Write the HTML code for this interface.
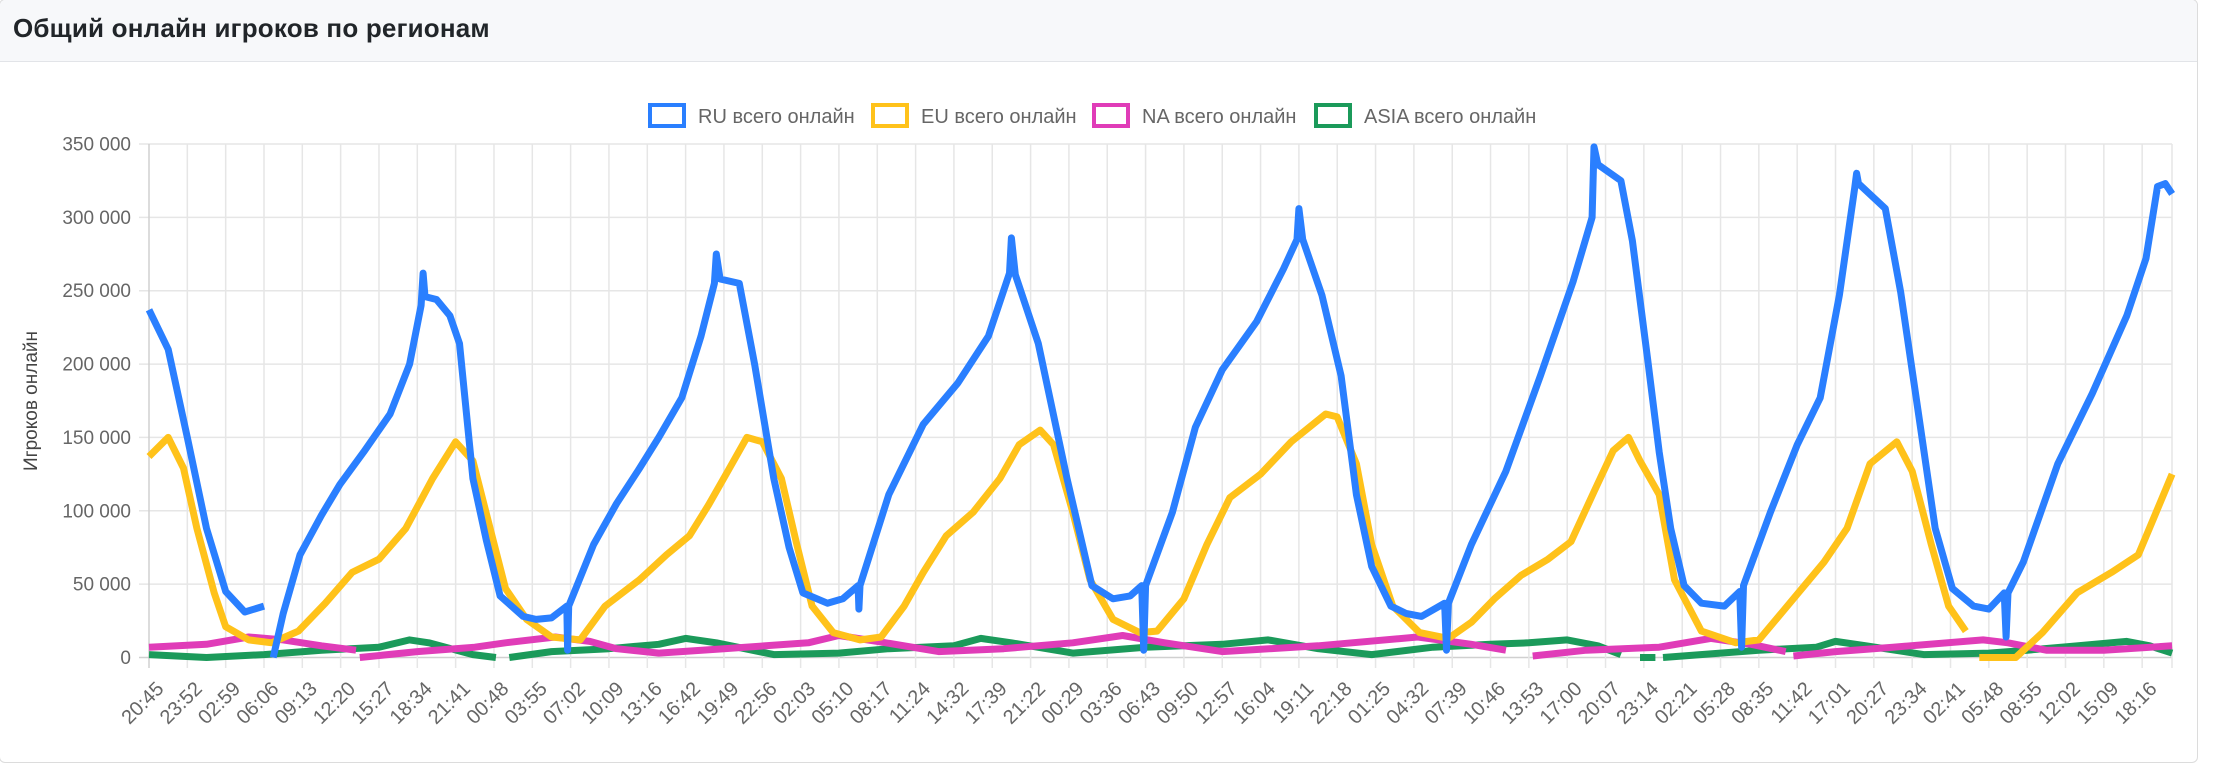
<!DOCTYPE html>
<html><head><meta charset="utf-8">
<style>
html,body{margin:0;padding:0;background:#fff;}
body{width:2216px;height:769px;overflow:hidden;position:relative;font-family:"Liberation Sans",Arial,sans-serif;}
#card{position:absolute;left:-1px;top:-1px;width:2199px;height:764px;border:1px solid #dcdcdc;border-radius:6px;box-sizing:border-box;overflow:hidden;}
#header{position:absolute;left:0;top:0;width:100%;height:62px;background:#f7f8fa;border-bottom:1px solid #e2e4e8;box-sizing:border-box;}
#title{position:absolute;left:13px;top:13px;font-size:26px;font-weight:bold;color:#212529;letter-spacing:0.2px;}
svg{position:absolute;left:0;top:0;}
</style></head>
<body>
<div id="card">
  <div id="header">
    <div id="title">Общий онлайн игроков по регионам</div>
  </div>
</div>
<svg id="chart" width="2216" height="769"></svg>
<script>
const tickLabels = ["20:45","23:52","02:59","06:06","09:13","12:20","15:27","18:34","21:41","00:48","03:55","07:02","10:09","13:16","16:42","19:49","22:56","02:03","05:10","08:17","11:24","14:32","17:39","21:22","00:29","03:36","06:43","09:50","12:57","16:04","19:11","22:18","01:25","04:32","07:39","10:46","13:53","17:00","20:07","23:14","02:21","05:28","08:35","11:42","17:01","20:27","23:34","02:41","05:48","08:55","12:02","15:09","18:16"];
const yTicks = [0,50000,100000,150000,200000,250000,300000,350000];
const yTickLabels = ["0","50 000","100 000","150 000","200 000","250 000","300 000","350 000"];
const seriesNames = ["RU всего онлайн","EU всего онлайн","NA всего онлайн","ASIA всего онлайн"];

const ruT = [0,0.5,1,1.5,2,2.5,3,3.1,3.24,3.5,3.94,4.5,4.98,5.6,6.29,6.8,7.1,7.15,7.2,7.5,7.85,8.1,8.45,8.8,9.16,9.76,10.1,10.5,10.9,10.92,10.95,11.6,12.2,12.8,13.3,13.9,14.4,14.75,14.8,14.9,15.4,15.8,16.3,16.7,17.06,17.7,18.1,18.5,18.52,18.55,19.3,20.2,21.1,21.9,22.45,22.5,22.6,23.2,23.95,24.6,25.15,25.6,25.9,25.95,26.0,26.7,27.3,28.0,28.9,29.6,29.95,30.0,30.1,30.6,31.1,31.5,31.9,32.4,32.8,33.2,33.8,33.85,33.9,34.5,35.4,36.3,37.15,37.65,37.7,37.8,38.4,38.7,39.1,39.4,39.7,40.05,40.5,41.1,41.5,41.55,41.6,42.3,43.0,43.6,44.1,44.5,44.55,44.6,45.3,45.7,46.15,46.6,47.05,47.6,48.0,48.4,48.45,48.5,48.9,49.8,50.7,51.6,52.1,52.4,52.6,52.78];
const ruV = [237,210,150,88,45,31,35,null,0,30,70,97,118,140,166,200,240,262,246,244,233,214,122,80,42,28,26,27,35,5,35,77,105,129,150,177,219,255,275,258,255,200,122,75,44,37,40,49,33,49,111,159,187,219,262,286,261,214,122,49,40,42,49,5,49,99,157,196,229,265,285,306,285,247,192,111,62,35,30,28,37,5,37,77,127,192,256,300,348,336,325,284,203,140,88,49,37,35,45,7,49,99,145,177,247,320,330,323,306,249,169,88,47,35,33,44,14,44,65,132,180,233,272,321,323,316];

const euT = [0,0.5,0.9,1.25,1.7,2.0,2.6,3.2,3.9,4.6,5.3,6.0,6.7,7.4,8.0,8.45,8.9,9.3,9.85,10.5,11.25,11.9,12.8,13.5,14.1,14.6,15.1,15.6,16.0,16.5,16.9,17.3,17.85,18.55,19.1,19.7,20.2,20.8,21.5,22.2,22.7,23.25,23.6,24.1,24.55,25.15,25.85,26.3,27.0,27.6,28.2,29.0,29.8,30.7,31.0,31.5,31.9,32.45,33.15,33.9,34.5,35.1,35.8,36.5,37.1,37.7,38.2,38.6,38.9,39.4,39.8,40.5,41.4,42.0,42.9,43.7,44.3,44.9,45.6,46.0,46.5,46.95,47.4,47.5,47.75,48.7,49.4,50.3,51.2,51.9,52.3,52.78];
const euV = [137,150,129,88,44,21,12,10,18,37,58,67,88,122,147,134,88,47,26,14,12,35,53,70,83,104,127,150,147,122,77,35,17,12,14,35,58,83,99,122,145,155,145,99,53,26,17,18,40,77,109,125,147,166,164,132,77,35,17,13,24,40,56,67,79,113,141,150,134,111,53,18,10,12,40,65,88,132,147,127,77,35,18,null,0,0,17,44,58,70,95,125];

const naT = [0,1.5,2.6,3.5,4.5,5.4,5.45,5.5,7,8.5,9.3,10.6,11.5,12.2,13.3,15,17.2,18.0,19,20.6,22.3,24.1,25.4,26.5,28,30.5,33.1,34.5,35.4,35.8,36.1,37.5,39.4,40.75,41.8,42.7,42.8,42.9,44,45.5,47.85,48.5,49.5,51,52.78];
const naV = [7,9,14,12,8,5,null,0,4,7,10,14,11,6,3,6,10,15,11,4,6,10,15,10,4,8,14,9,5,null,1,5,7,13,9,4,null,1,4,7,12,10,5,5,8];

const asiaT = [0,1.5,3,4.5,6,6.8,7.3,8.45,9.05,9.2,9.4,10.5,12,13.3,14.0,14.8,16.3,18,19.3,21,21.7,22.5,24.1,26,28,29.2,30.5,31.9,33.5,35,36,37,37.8,38.4,38.6,38.9,39.3,39.4,39.5,41,42,43.5,44.0,44.8,46.3,48,49,50.3,51.6,52.2,52.78];
const asiaV = [2,0,2,5,7,12,10,2,0,null,0,4,6,9,13,10,2,3,6,8,13,10,3,7,9,12,6,2,7,9,10,12,8,2,null,0,0,null,0,3,5,7,11,8,2,3,5,8,11,8,3];

const NS = "http://www.w3.org/2000/svg";
const svg = document.getElementById('chart');
const X0 = 149, STEP = 38.33, XR = 2172;
const Y0 = 657.5, YT = 144, YMAX = 350000;
function xScale(t){ return X0 + t*STEP; }
function yScale(v){ return Y0 - (v/YMAX)*(Y0-YT); }
function mk(tag, attrs){ const e=document.createElementNS(NS,tag); for(const k in attrs) e.setAttribute(k,attrs[k]); svg.appendChild(e); return e; }

yTicks.forEach((v,i)=>{
  const y=yScale(v);
  const g=mk('line',{x1:139,x2:XR,y1:y,y2:y,stroke:i===0?'#d0d0d0':'#e6e6e6','stroke-width':1.5});
  
  
  const t=mk('text',{x:131,y:y+6.5,'text-anchor':'end','font-size':19,fill:'#666','font-family':'Liberation Sans, sans-serif'});
  t.textContent=yTickLabels[i];
  
  
});
tickLabels.forEach((lab,i)=>{
  const x=xScale(i);
  const g=mk('line',{x1:x,x2:x,y1:YT,y2:668,stroke:i===0?'#d0d0d0':'#e6e6e6','stroke-width':1.5});
  
  
  const t=mk('text',{transform:`translate(${x+6},${680}) rotate(-45)`,'text-anchor':'end','font-size':20,fill:'#666','font-family':'Liberation Sans, sans-serif',dy:'0.7em'});
  t.textContent=lab;
  
  
});
const rg=mk('line',{x1:XR,x2:XR,y1:YT,y2:668,stroke:'#e6e6e6','stroke-width':1.5});



const yt=mk('text',{transform:'translate(37,401) rotate(-90)','text-anchor':'middle','font-size':19,fill:'#444','font-family':'Liberation Sans, sans-serif'});
yt.textContent='Игроков онлайн';



const colors=['#2a7fff','#ffc21a','#e03cb8','#1b9a5a'];
function drawSeries(ts, vs, color, name){
  let d='', pen=false;
  for(let i=0;i<ts.length;i++){
    if(vs[i]===null){pen=false;continue;}
    d += (pen?'L':'M') + xScale(ts[i]).toFixed(1)+','+yScale(vs[i]*1000).toFixed(1);
    pen=true;
  }
  const p=mk('path',{d:d,fill:'none',stroke:color,'stroke-width':7,'stroke-linejoin':'round','stroke-linecap':'butt'});
  
  
}
drawSeries(asiaT,asiaV,colors[3],'asia-line');
drawSeries(naT,naV,colors[2],'na-line');
drawSeries(euT,euV,colors[1],'eu-line');
drawSeries(ruT,ruV,colors[0],'ru-line');

const legX=[648,871,1092,1314];
seriesNames.forEach((n,i)=>{
  const r=mk('rect',{x:legX[i]+2,y:105,width:34,height:21,fill:'#fff',stroke:colors[i],'stroke-width':4});
  
  
  const t=mk('text',{x:legX[i]+50,y:123,'font-size':20,fill:'#666','font-family':'Liberation Sans, sans-serif'});
  t.textContent=n;
  
  
});
</script>
</body></html>
